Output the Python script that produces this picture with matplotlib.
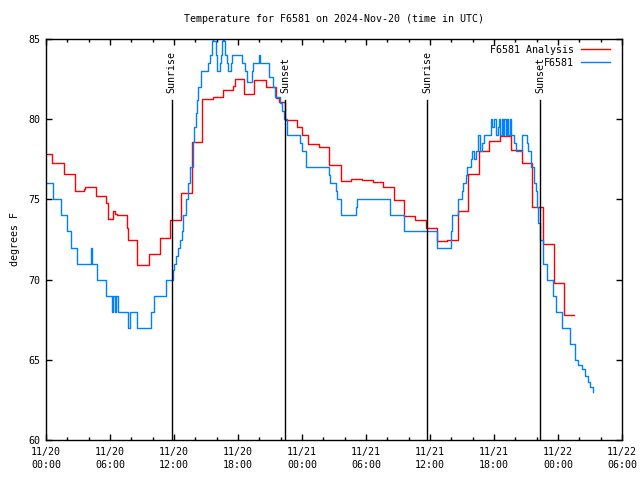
import pandas as pd
import matplotlib
matplotlib.use("Agg")
import matplotlib.pyplot as plt
import matplotlib.dates as mdates
import matplotlib.transforms as mtransforms

# ---------------------------
# data (hours after 2024-11-20 00:00 UTC, degrees F)
# ---------------------------
start = pd.Timestamp("2024-11-20 00:00")

analysis_hours = [0, 0.59, 1.69, 2.69, 3.56, 3.68, 4.66, 5.60, 5.81, 6.28,
                  6.47, 6.68, 7.62, 7.72, 8.56, 9.63, 10.66, 11.62, 12.63, 13.69,
                  14.60, 15.66, 16.59, 17.53, 17.72, 18.53, 19.5, 20.58, 21.56, 21.87,
                  22.45, 23.56, 24.0, 24.59, 25.62, 26.56, 27.63, 28.59, 29.62, 30.68,
                  31.57, 32.65, 33.59, 34.59, 35.62, 36.68, 37.62, 38.6, 39.59, 40.59,
                  41.56, 42.56, 43.59, 44.6, 45.53, 46.62, 47.62, 48.56, 49.53]
analysis_temp = [77.8, 77.25, 76.6, 75.5, 75.65, 75.8, 75.2, 74.75, 73.8, 74.3,
                 74.1, 74.0, 73.2, 72.5, 70.9, 71.6, 72.6, 73.7, 75.4, 78.56,
                 81.25, 81.4, 81.8, 82.1, 82.5, 81.6, 82.45, 82.0, 81.35, 81.1,
                 79.95, 79.5, 79.03, 78.45, 78.25, 77.15, 76.15, 76.25, 76.2, 76.07,
                 75.8, 74.95, 73.96, 73.7, 73.2, 72.4, 72.5, 74.25, 76.56, 78.0,
                 78.66, 78.95, 78.1, 77.3, 74.5, 72.2, 69.77, 67.8, 67.8]

obs_hours = [0, 0.68, 1.43, 1.94, 2.32, 2.88, 4.22, 4.28, 4.81, 5.65,
             6.22, 6.31, 6.47, 6.59, 6.72, 7.72, 7.85, 8.56, 9.82, 10.12,
             11.28, 11.93, 12.03, 12.19, 12.40, 12.56, 12.72, 12.87, 13.10, 13.34,
             13.50, 13.75, 13.87, 14.03, 14.15, 14.28, 14.53, 15.22, 15.37, 15.53,
             15.62, 15.68, 15.91, 16.06, 16.31, 16.42, 16.53, 16.57, 16.69, 16.78,
             16.94, 17.09, 17.32, 17.41, 18.35, 18.66, 18.81, 19.28, 19.44, 19.97,
             20.06, 20.93, 21.28, 21.47, 21.94, 22.12, 22.31, 22.62, 23.81, 24.0,
             24.37, 26.5, 26.62, 27.19, 27.31, 27.68, 29.06, 29.18, 32.25, 33.56,
             36.63, 37.97, 38.09, 38.65, 38.97, 39.12, 39.35, 39.47, 39.84, 39.97,
             40.16, 40.29, 40.47, 40.53, 40.66, 40.85, 41.09, 41.72, 41.84, 42.03,
             42.16, 42.35, 42.47, 42.59, 42.72, 42.84, 42.97, 43.09, 43.22, 43.34,
             43.47, 43.59, 43.87, 44.06, 44.65, 45.06, 45.22, 45.47, 45.78, 45.91,
             46.0, 46.16, 46.31, 46.56, 46.94, 47.50, 47.81, 48.35, 49.12, 49.59,
             49.87, 50.22, 50.53, 50.81, 51.0, 51.25]
obs_temp = [76, 75, 74, 73, 72, 71, 72, 71, 70, 69,
            68, 69, 68, 69, 68, 67, 68, 67, 68, 69,
            70, 70.6, 71, 71.5, 72, 72.5, 73, 74, 75, 76,
            77, 78.6, 79.5, 80.4, 81.2, 82.0, 83.0, 83.5, 84.0, 84.9,
            85.5, 84.9, 84.0, 83.0, 83.5, 84.0, 84.9, 85.5, 84.9, 84.0,
            83.5, 83.0, 83.5, 84.0, 83.5, 83.0, 82.3, 83.0, 83.5, 84.0,
            83.5, 82.6, 82.0, 81.4, 81.0, 80.5, 80.0, 79.0, 78.5, 78.0,
            77.0, 76.5, 76.0, 75.5, 75.0, 74.0, 74.5, 75.0, 74.0, 73.0,
            72.0, 73.0, 74.0, 75.0, 75.5, 76.0, 76.5, 77.0, 77.5, 78.0,
            77.5, 78.0, 78.5, 79.0, 78.0, 78.5, 79.0, 80.0, 79.5, 80.0,
            79.0, 79.5, 80.0, 79.0, 80.0, 79.0, 80.0, 79.0, 80.0, 79.0,
            80.0, 79.0, 78.5, 78.0, 79.0, 78.5, 78.0, 77.0, 76.0, 75.5,
            74.5, 73.5, 72.5, 71.0, 70.0, 69.0, 68.0, 67.0, 66.0, 65.0,
            64.7, 64.4, 64.0, 63.6, 63.3, 63.0]

sun_hours = [11.78, 22.44, 35.75, 46.34]
sun_labels = ["Sunrise", "Sunset", "Sunrise", "Sunset"]

# ---------------------------
# plot
# ---------------------------
plt.rcParams["font.family"] = ["DejaVu Sans Mono"]
FS = 7.2

def to_time(hours):
    return start + pd.to_timedelta(hours, unit="h")

fig = plt.figure(figsize=(6.4, 4.8), dpi=100)
ax = fig.add_axes([46 / 640, 1 - 440 / 480, 576 / 640, 401 / 480])

ax.plot(to_time(analysis_hours), analysis_temp, drawstyle="steps-post",
        color="#ff0000", lw=1.0, label="F6581 Analysis")
ax.plot(to_time(obs_hours), obs_temp, drawstyle="steps-post",
        color="#0080ff", lw=1.0, label="F6581")

trans = mtransforms.blended_transform_factory(ax.transData, ax.transAxes)
for h, lab in zip(sun_hours, sun_labels):
    t = to_time(h)
    ax.axvline(t, ymin=0, ymax=0.848, color="black", lw=1.0)
    ax.text(t, 0.866, lab, rotation=90, ha="center", va="bottom",
            fontsize=FS, transform=trans)

ax.set_xlim(start, start + pd.Timedelta(hours=54))
ax.set_ylim(60, 85)
ax.set_yticks([60, 65, 70, 75, 80, 85])

ax.xaxis.set_major_locator(mdates.HourLocator(byhour=[0, 6, 12, 18]))
ax.xaxis.set_minor_locator(mdates.HourLocator(byhour=range(0, 24, 2)))
ax.xaxis.set_major_formatter(mdates.DateFormatter("%m/%d\n%H:%M"))

ax.tick_params(which="both", direction="in", top=True, right=True,
               labelsize=FS, width=1.0)
ax.tick_params(which="major", length=4.0)
ax.tick_params(which="minor", length=2.0)
ax.tick_params(axis="x", pad=5)
ax.tick_params(axis="y", pad=4)
for lab in ax.get_xticklabels():
    lab.set_linespacing(1.4)
for sp in ax.spines.values():
    sp.set_linewidth(1.0)

ax.set_title("Temperature for F6581 on 2024-Nov-20 (time in UTC)",
             fontsize=FS, pad=12)
ax.set_ylabel("degrees F", fontsize=FS, labelpad=6)

ax.legend(loc="upper right", frameon=False, markerfirst=False, fontsize=FS,
          handlelength=2.9, handletextpad=0.7, labelspacing=0.3,
          borderaxespad=0.0, borderpad=0.0,
          bbox_to_anchor=(1 - 12 / 576, 1 - 6 / 401))

fig.savefig("out.png", dpi=100)
